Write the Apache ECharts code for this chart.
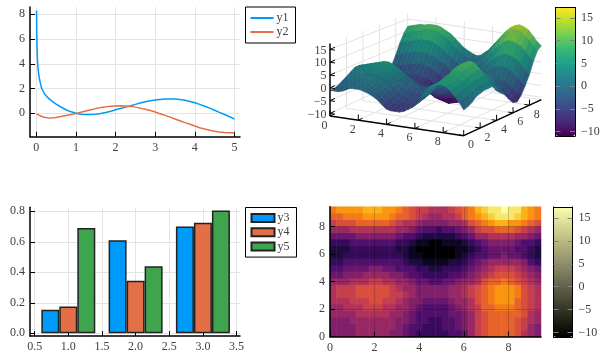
<!DOCTYPE html>
<html><head><meta charset="utf-8">
<style>html,body{margin:0;padding:0;background:#fff}#c{width:612px;height:360px}</style>
<script src="https://cdn.jsdelivr.net/npm/echarts@6/dist/echarts.min.js"></script>
</head><body><div id="c"></div>
<script>
const lineXa=[0.005,0.01,0.02,0.03,0.05,0.08,0.13,0.2,0.27,0.34,0.42,0.5,0.63,0.76,0.88,1,1.12,1.25,1.38,1.5,1.62,1.75,1.88,2,2.12,2.25,2.38,2.5,2.62,2.75,2.88,3,3.12,3.25,3.38,3.5,3.62,3.75,3.88,4,4.12,4.25,4.38,4.5,4.62,4.75,4.88,5];
const y1=[8.3,6.6,5,4.2,3.4,2.75,2.05,1.6,1.33,1.13,0.93,0.75,0.49,0.27,0.12,0,-0.07,-0.1,-0.1,-0.08,-0.02,0.07,0.17,0.28,0.39,0.5,0.61,0.72,0.83,0.93,1.01,1.07,1.12,1.15,1.16,1.15,1.11,1.05,0.96,0.85,0.72,0.57,0.42,0.25,0.08,-0.1,-0.28,-0.47];
const lineXb=[0,0.05,0.1,0.2,0.28,0.35,0.42,0.5,0.62,0.75,0.88,1,1.12,1.25,1.38,1.5,1.62,1.75,1.88,2,2.12,2.25,2.38,2.5,2.62,2.75,2.88,3,3.12,3.25,3.38,3.5,3.62,3.75,3.88,4,4.12,4.25,4.38,4.5,4.62,4.75,4.88,5];
const y2=[-0.05,-0.13,-0.2,-0.32,-0.36,-0.38,-0.36,-0.33,-0.26,-0.18,-0.1,-0.02,0.08,0.19,0.29,0.38,0.46,0.52,0.57,0.6,0.61,0.6,0.56,0.5,0.42,0.33,0.22,0.1,-0.03,-0.17,-0.31,-0.46,-0.6,-0.75,-0.89,-1.03,-1.16,-1.27,-1.37,-1.45,-1.51,-1.55,-1.57,-1.58];
const barX=[1,2,3];
const y3=[0.155,0.61,0.70];
const y4=[0.175,0.345,0.725];
const y5=[0.69,0.44,0.805];
const lineXTicks=[0,1,2,3,4,5];
const lineYTicks=[0,2,4,6,8];
const barXTicks=[0.5,1,1.5,2,2.5,3,3.5];
const barYTicks=[0,0.2,0.4,0.6,0.8];
const heatXTicks=[0,2,4,6,8];
const heatYTicks=[0,2,4,6,8];
const surfXTicks=[0,2,4,6,8];
const surfYTicks=[0,2,4,6,8];
const zTicks=[-10,-5,0,5,10,15];
const xGrid=[0,0.3,0.6,0.9,1.2,1.5,1.8,2.1,2.4,2.7,3.05,3.35,3.65,3.95,4.25,4.6,4.9,5.2,5.5,5.8,6.1,6.4,6.7,7,7.3,7.6,7.9,8.2,8.55,8.85,9.15,9.45];
const yGrid=[0,0.5,1,1.5,2,2.5,3,3.5,4,4.5,5,5.5,6,6.5,7,7.5,8,8.5,9,9.45];
const zRows=[
[-1,-1,-1,-0.5,0.5,1,1,1,0.5,0,-1,-2,-3.5,-5,-5.5,-5.5,-5.5,-5,-4,-3,-1.5,1,4,6,7,7.5,7.5,7,5.5,3.5,1.5,-1],
[-1,-1,-1,-0.5,0.5,1,1.5,1.5,1,0.5,-0.5,-1.5,-3,-4.5,-5,-5,-5,-4.5,-3.5,-2.5,-1,1.5,4.5,6,7,7.5,8,7.5,6,4.5,2,-0.5],
[-0.5,-0.5,0,0.5,1,1.5,2,2,1.5,1,0,-1,-2.5,-4,-4.5,-5,-5,-4.5,-3,-2,-0.5,2,4.5,6,7,8,8,7.5,6.5,5,2.5,0.5],
[0.5,1,1.5,2,2.5,3,3,3,2.5,2,1,-0.5,-2,-3.5,-4,-4.5,-4.5,-4,-2.5,-1.5,0,2,4.5,6.5,7.5,8.5,8.5,8,7,5.5,3.5,2],
[1.5,2,2.5,3,3.5,4,4,4,3.5,3,2,0.5,-1,-2.5,-3,-3.5,-3.5,-3,-1.5,-0.5,1,3,5,7,8.5,9.5,10,9.5,8,6,4,2.5],
[2.5,3,3.5,4,4.5,5,5.5,5.5,5,4,3,1.5,0,-1,-1.5,-2,-2,-1.5,0,1,2,3.5,5.5,7.5,9.5,10.5,11,10.5,8.5,6.5,4.5,3],
[3.5,4,4.5,5,5.5,6,6.5,6.5,6,5,4,2.5,1,0,-0.5,-1,-1,-0.5,0.5,1.5,2.5,4,6,8,10,11,11.5,11,9,6.5,4.5,3],
[3.5,4,4.5,5,5.5,6,6.5,6.5,6,5,3.5,2,1,0,-0.5,-1,-1,-0.5,0.5,1.5,2.5,4,5.5,7.5,9.5,11,11.5,11,9,6.5,4.5,3],
[1,1.5,2,2.5,3,3.5,4,4,3.5,2.5,1.5,0.5,-0.5,-1.5,-2.5,-3,-3,-2.5,-1.5,-0.5,0.5,2,3.5,5.5,7.5,8.5,9,8.5,6.5,4.5,2.5,0.5],
[-2,-1.5,-1,-0.5,0,0.5,1,1,0.5,0,-0.5,-2,-3,-4,-5,-5,-5,-5,-4,-3,-2,-0.5,1.5,3,5,6,6.5,6,4.5,2.5,0.5,-1],
[-3,-3,-2.5,-2,-2,-1.5,-1,-1,-1.5,-2,-3,-3.5,-4.5,-5.5,-6,-6.5,-6.5,-6,-5.5,-5,-4,-2.5,-0.5,1,3,4.5,5,4.5,3,1,-0.5,-2.5],
[-5,-5,-4.5,-4,-4,-3.5,-3.5,-3.5,-3.5,-4,-4.5,-5.5,-6.5,-7.5,-8,-8.5,-8.5,-8,-7.5,-6.5,-5.5,-4,-2.5,-1,0.5,1.5,2,1.5,0.5,-1,-3,-5],
[-6.5,-6.5,-6,-6,-5.5,-5,-5,-5,-5,-5.5,-6,-7,-8,-9.5,-10,-10.5,-11,-10.5,-10,-9,-7.5,-6,-4.5,-3,-2,-1.5,-1,-1.5,-2.5,-4,-5.5,-7],
[-7,-7,-6.5,-6,-6,-5.5,-5,-5,-5.5,-6,-6.5,-7.5,-8.5,-10,-11,-11,-11,-11,-10.5,-9.5,-8.5,-6.5,-5,-3.5,-2.5,-2,-2,-2.5,-3,-4.5,-6,-7.5],
[-5.5,-5.5,-5,-4.5,-4,-4,-3.5,-3.5,-4,-4.5,-5,-6,-7,-8.5,-9.5,-10,-10,-9.5,-9,-8,-6.5,-5,-3,-1.5,-1,-0.5,-0.5,-1,-1.5,-3,-4.5,-5.5],
[-2.5,-2,-2,-1.5,-1,-0.5,0,0,-0.5,-1,-2,-3,-4.5,-6,-7,-7.5,-7.5,-7,-6.5,-5,-3.5,-1.5,0.5,2,3,3.5,3.5,3,2,0.5,-1,-2.5],
[1,1.5,2,2.5,3,3.5,3.5,3.5,3,2.5,1.5,0.5,-1,-2.5,-3.5,-4.5,-5,-4,-3,-1.5,0,2,4,5.5,6.5,7.5,7.5,7,6,4.5,2.5,1],
[5,5.5,6,6.5,7,7.5,7.5,7.5,7,6,5,3.5,2.5,1,0,-1,-1,-0.5,0.5,2,3.5,6,8,9.5,11,12,12,11.5,10.5,9,7,5.5],
[8,8.5,9,9.5,10,10.5,11,11,10.5,9.5,8.5,7,5.5,4,3,2,2,2.5,3.5,5,7,9,11,13,14.5,15.5,16,15.5,14,12.5,10.5,9],
[10,10.5,11,11.5,11.5,12,12,12,11.5,10.5,9.5,8,6.5,5,4,3,2.5,3,4.5,5.5,7.5,10,12,14,15.5,16.5,17,16.5,15.5,13.5,11.5,10]
];
const viridis=['#440154','#482878','#3e4a89','#31688e','#26828e','#1f9e89','#35b779','#6ece58','#b5de2b','#fde725'];
const viridisDim=['#3a0148','#3d2266','#353f74','#2a5879','#206e79','#1a8674','#2d9b67','#5daf4b','#9abc25','#d7c41f'];
const inferno=['#000004','#160b39','#420a68','#6a176e','#932667','#bc3754','#dd513a','#f37819','#fca50a','#f6d746','#fcffa4'];
const sandbar=['#000000','#1c1c14','#38382a','#54543f','#707055','#8c8c69','#a8a878','#c4c488','#e0e098','#fbfdb0'];

const FONT='"Liberation Serif"', TXT='#404040', FS=12;
const GRIDC='#e4e4e4';

function sm(v){return String(v).replace('-','\u2212');}
function baseAxis(ticks,min,max,pos,fmt,extra){
  return Object.assign({type:'value',min:min,max:max,position:pos,z:5,
    axisLine:{show:true,onZero:false,lineStyle:{color:'#000',width:1.5}},
    axisTick:{show:true,inside:true,length:5,customValues:ticks,lineStyle:{color:'#000',width:1}},
    axisLabel:{show:true,customValues:ticks,margin:5,fontFamily:FONT,fontSize:FS,color:TXT,formatter:fmt||(v=>sm(v))},
    splitLine:{show:true,lineStyle:{color:GRIDC,width:1}}},extra||{});
}
const f1=v=>v.toFixed(1);

const O=[24,116],XV=[14.15,2.08],YV=[8.22,-3.81],ZS=2.56,ZMIN=-11,XMAX=9.45,YMAX=9.45;
const proj=(x,y,z)=>[O[0]+x*XV[0]+y*YV[0], O[1]+x*XV[1]+y*YV[1]-(z-ZMIN)*ZS];
const wallZ=(y,z)=>ZMIN+(z-ZMIN)*(1-0.083*y/YMAX);
const WALLTOP=17.3;

const wallData=[];
surfYTicks.forEach(v=>{if(v>0)wallData.push([0,v]);});
surfXTicks.forEach(v=>{if(v>0)wallData.push([1,v]);});
surfXTicks.forEach(v=>{if(v>0)wallData.push([2,v]);});
surfYTicks.forEach(v=>{if(v>0)wallData.push([3,v]);});
zTicks.forEach(v=>wallData.push([4,v]));
wallData.push([5,0]);

function wallRender(p,api){
  const k=api.value(0),v=api.value(1);
  const C=a=>api.coord(a);
  let pts;
  if(k===0)pts=[proj(0,v,ZMIN),proj(0,v,wallZ(v,WALLTOP))];
  else if(k===1)pts=[proj(v,YMAX,ZMIN),proj(v,YMAX,wallZ(YMAX,WALLTOP))];
  else if(k===2)pts=[proj(v,0,ZMIN),proj(v,YMAX,ZMIN)];
  else if(k===3)pts=[proj(0,v,ZMIN),proj(XMAX,v,ZMIN)];
  else if(k===4)pts=[proj(0,0,v),proj(0,YMAX,wallZ(YMAX,v)),proj(XMAX,YMAX,wallZ(YMAX,v))];
  else pts=[proj(0,YMAX,wallZ(YMAX,WALLTOP)),proj(0,YMAX,ZMIN),proj(XMAX,YMAX,ZMIN)];
  return {type:'polyline',shape:{points:pts.map(C)},style:{fill:null,stroke:'#e2e2e2',lineWidth:1},silent:true};
}

const surfData=[];
for(let j=yGrid.length-2;j>=0;j--){
  for(let i=0;i<xGrid.length-1;i++){
    const zz=(zRows[j][i]+zRows[j][i+1]+zRows[j+1][i]+zRows[j+1][i+1])/4;
    surfData.push([i,j,zz]);
  }
}
function surfRender(p,api){
  const i=api.value(0),j=api.value(1);
  const c=(a,b)=>api.coord(proj(xGrid[a],yGrid[b],zRows[b][a]));
  const col=api.visual('color');
  return {type:'polygon',shape:{points:[c(i,j),c(i+1,j),c(i+1,j+1),c(i,j+1)]},
    style:{fill:col,stroke:col,lineWidth:0.6},silent:true};
}

const axData=[];
axData.push([0,0]);axData.push([1,0]);axData.push([2,0]);
surfXTicks.forEach(v=>axData.push([3,v]));
surfYTicks.forEach(v=>axData.push([4,v]));
zTicks.forEach(v=>axData.push([5,v]));
function axRender(p,api){
  const k=api.value(0),v=api.value(1);
  const C=a=>api.coord(a);
  const line=(a,b,w)=>({type:'line',shape:{x1:C(a)[0],y1:C(a)[1],x2:C(b)[0],y2:C(b)[1]},style:{stroke:'#000',lineWidth:w},silent:true});
  const text=(pt,dx,dy,s,al)=>({type:'text',x:C(pt)[0]+dx,y:C(pt)[1]+dy,silent:true,
    style:{text:s,fill:TXT,font:FS+'px '+FONT,textAlign:al,textVerticalAlign:'middle'}});
  if(k===0)return line(proj(0,0,ZMIN),proj(XMAX,0,ZMIN),1.5);
  if(k===1)return line(proj(XMAX,0,ZMIN),proj(XMAX,YMAX,ZMIN),1.5);
  if(k===2)return line(proj(0,0,ZMIN),proj(0,0,WALLTOP),1.5);
  const tl=0.35;
  if(k===3){const a=proj(v,0,ZMIN);
    return {type:'group',children:[line(a,proj(v,0,ZMIN+2.2),1),line(a,proj(v,0.5,ZMIN),1),text(a,-5.5,9.5,String(v),'center')]};}
  if(k===4){const a=proj(XMAX,v,ZMIN);
    return {type:'group',children:[line(a,proj(XMAX,v,ZMIN+2.2),1),line(a,proj(XMAX-tl,v,ZMIN),1),text(a,7.3,9.5,String(v),'center')]};}
  const a=proj(0,0,v);
  return {type:'group',children:[line(a,proj(tl,0,v),1),line(a,proj(0,0.6,v),1),text(a,-3.5,1,sm(v),'right')]};
}

const heatData=[];
zRows.forEach((r,j)=>r.forEach((z,i)=>heatData.push([i,j,z])));

const colorAxes=(idx,l,t,w,h,zLo,zHi)=>({
  grid:{left:l,top:t,width:w,height:h,containLabel:false},
  x:[{gridIndex:idx,type:'value',min:0,max:1,position:'top',z:10,show:true,axisLine:{show:true,onZero:false,lineStyle:{color:'#000',width:1}},axisTick:{show:false},axisLabel:{show:false},splitLine:{show:false}},
     {gridIndex:idx,type:'value',min:0,max:1,position:'bottom',z:10,show:true,axisLine:{show:true,onZero:false,lineStyle:{color:'#000',width:1}},axisTick:{show:false},axisLabel:{show:false},splitLine:{show:false}}],
  y:[{gridIndex:idx,type:'value',min:zLo,max:zHi,position:'left',z:10,axisLine:{show:true,onZero:false,lineStyle:{color:'#000',width:1}},
      axisTick:{show:true,inside:true,length:5,customValues:zTicks,lineStyle:{color:'#808080',width:1}},axisLabel:{show:false},splitLine:{show:false}},
     {gridIndex:idx,type:'value',min:zLo,max:zHi,position:'right',z:10,axisLine:{show:true,onZero:false,lineStyle:{color:'#000',width:1}},
      axisTick:{show:true,inside:true,length:5,customValues:zTicks,lineStyle:{color:'#808080',width:1}},
      axisLabel:{show:true,customValues:zTicks,margin:6,fontFamily:FONT,fontSize:FS,color:TXT,formatter:v=>sm(v)},splitLine:{show:false}}]
});
const cb1=colorAxes(4,555.5,7.5,19.5,128.5,-10.95,17.27);
const cb2=colorAxes(5,553.5,207,19,130,-11,17.4);

const legendBase=(top,names,iw,ih,gap)=>({data:names,left:245.5,top:top,orient:'vertical',icon:'rect',itemWidth:iw,itemHeight:ih,itemGap:gap,
  borderColor:'#000',borderWidth:1,backgroundColor:'#fff',selectedMode:false,
  textStyle:{fontFamily:FONT,fontSize:FS,color:TXT,padding:[0,0,0,-2]},z:8});

const lineP=(xs,ys)=>xs.map((x,i)=>[x,ys[i]]);
const bp=ys=>barX.map((x,i)=>[x,ys[i]]);
const barOpt=(name,col,ys)=>({name:name,type:'bar',xAxisIndex:2,yAxisIndex:2,data:bp(ys),barWidth:18,barGap:0,z:6,
  itemStyle:{color:col,borderColor:'#222',borderWidth:1.5},silent:true,animation:false});

const heatLine={show:true,lineStyle:{color:'rgba(0,0,0,0.18)',width:1}};
const option={
  animation:false,
  textStyle:{fontFamily:FONT},
  grid:[
    {left:30,top:7,width:210,height:129.7},
    {left:306,top:0,width:250,height:180},
    {left:30,top:207.3,width:210,height:128.7},
    {left:330,top:206.7,width:211,height:130},
    cb1.grid,cb2.grid
  ],
  xAxis:[
    baseAxis(lineXTicks,-0.16,5.14,'bottom'),
    {gridIndex:1,type:'value',min:0,max:250,show:false},
    baseAxis(barXTicks,0.431,3.551,'bottom',f1,{gridIndex:2}),
    {gridIndex:3,type:'category',data:xGrid,show:false},
    baseAxis(heatXTicks,0,9.46,'bottom',null,{gridIndex:3,splitLine:heatLine}),
    ...cb1.x,...cb2.x
  ],
  yAxis:[
    baseAxis(lineYTicks,-1.89,8.59,'left'),
    {gridIndex:1,type:'value',min:0,max:180,inverse:true,show:false},
    baseAxis(barYTicks,-0.0177,0.826,'left',f1,{gridIndex:2}),
    {gridIndex:3,type:'category',data:yGrid,show:false},
    baseAxis(heatYTicks,0,9.45,'left',null,{gridIndex:3,splitLine:heatLine}),
    ...cb1.y,...cb2.y
  ],
  legend:[
    Object.assign(legendBase(7,['y1','y2'],23,2,2),{padding:[5,7,5,5]}),
    Object.assign(legendBase(207.5,['y3','y4','y5'],23,8,2.2),{padding:[4.6,7,4.6,5]})
  ],
  visualMap:[
    {type:'continuous',seriesIndex:[],min:-11,max:17.3,left:555.5,top:7.5,itemWidth:19.5,itemHeight:128.5,padding:0,
     calculable:false,showLabel:false,text:null,inRange:{color:viridis},hoverLink:false},
    {type:'continuous',seriesIndex:[3],dimension:2,min:-11,max:20,show:false,inRange:{color:viridisDim}},
    {type:'piecewise',seriesIndex:[8],dimension:2,min:-11.2,max:18.5,splitNumber:18,show:false,inRange:{color:inferno}},
    {type:'continuous',seriesIndex:[],min:-11,max:17.4,left:553.5,top:207,itemWidth:19,itemHeight:130,padding:0,
     calculable:false,showLabel:false,text:null,inRange:{color:sandbar},hoverLink:false}
  ],
  series:[
    {name:'y1',type:'line',xAxisIndex:0,yAxisIndex:0,data:lineP(lineXa,y1),showSymbol:false,symbol:'none',smooth:false,lineStyle:{width:1.5,color:'#009AFA'},itemStyle:{color:'#009AFA'},z:6},
    {name:'y2',type:'line',xAxisIndex:0,yAxisIndex:0,data:lineP(lineXb,y2),showSymbol:false,symbol:'none',smooth:false,lineStyle:{width:1.5,color:'#E36F47'},itemStyle:{color:'#E36F47'},z:6},
    {type:'custom',xAxisIndex:1,yAxisIndex:1,data:wallData,renderItem:wallRender,silent:true,z:1,encode:{x:0,y:1}},
    {type:'custom',xAxisIndex:1,yAxisIndex:1,data:surfData,renderItem:surfRender,silent:true,z:2,encode:{x:0,y:1},progressive:0},
    {type:'custom',xAxisIndex:1,yAxisIndex:1,data:axData,renderItem:axRender,silent:true,z:3,encode:{x:0,y:1},clip:false},
    barOpt('y3','#009AFA',y3),
    barOpt('y4','#E36F47',y4),
    barOpt('y5','#3EA44E',y5),
    {type:'heatmap',xAxisIndex:3,yAxisIndex:3,data:heatData,silent:true,progressive:0,z:2,emphasis:{disabled:true}}
  ]
};
const chart=echarts.init(document.getElementById('c'),null,{renderer:'canvas'});
chart.setOption(option);
</script></body></html>
